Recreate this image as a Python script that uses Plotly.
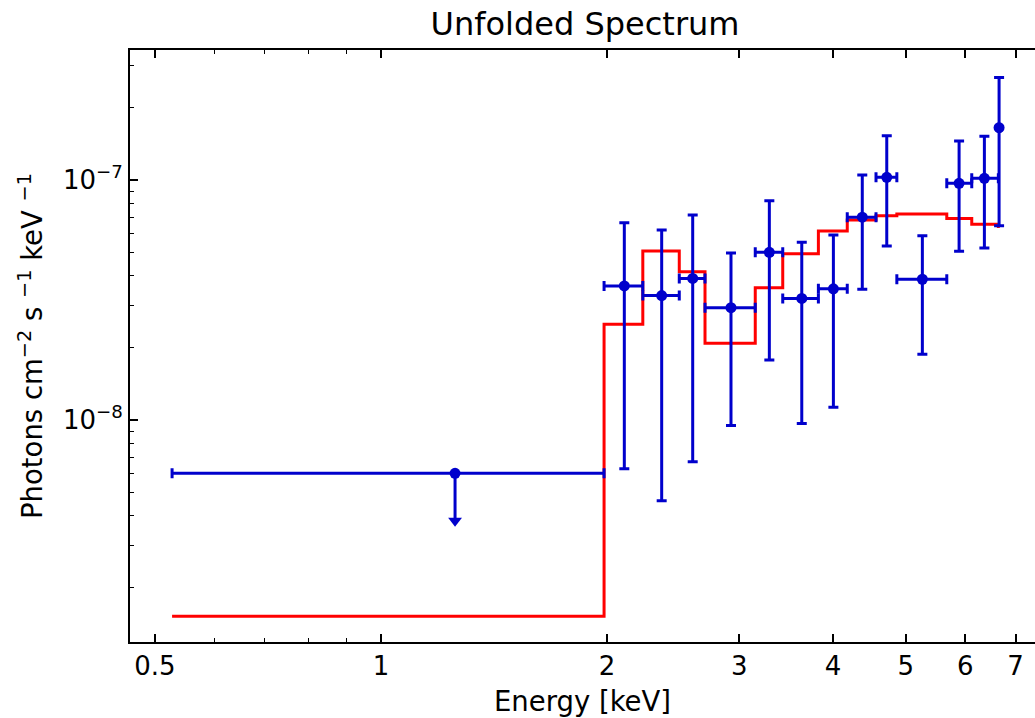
import numpy as np
import plotly.graph_objects as go

# ---- data ----
# bin edges in keV (shared by data and model)
edges = [0.527, 1.982, 2.232, 2.496, 2.701, 3.151, 3.428, 3.824, 4.178,
         4.563, 4.864, 5.669, 6.12, 6.64, 6.67]
# model (folded-back) values per bin
model_vals = [1.525e-9, 2.51e-8, 5.06e-8, 4.15e-8, 2.09e-8, 3.56e-8, 4.93e-8,
              6.13e-8, 6.81e-8, 7.10e-8, 7.22e-8, 6.92e-8, 6.54e-8, 6.4e-8]

# detected points (bins 2..14)
pt_x = [2.109, 2.365, 2.601, 2.925, 3.290, 3.634, 4.004, 4.375, 4.716, 5.26,
        5.887, 6.362, 6.655]
pt_y = [3.62e-8, 3.30e-8, 3.89e-8, 2.94e-8, 5.00e-8, 3.21e-8, 3.52e-8, 7.0e-8,
        1.026e-7, 3.86e-8, 9.69e-8, 1.016e-7, 1.652e-7]
pt_yhi = [6.64e-8, 6.19e-8, 7.15e-8, 4.97e-8, 8.20e-8, 5.5e-8, 5.90e-8, 1.05e-7,
          1.53e-7, 5.86e-8, 1.454e-7, 1.52e-7, 2.67e-7]
pt_ylo = [6.27e-9, 4.61e-9, 6.70e-9, 9.5e-9, 1.78e-8, 9.68e-9, 1.13e-8, 3.51e-8,
          5.31e-8, 1.88e-8, 5.05e-8, 5.21e-8, 6.45e-8]

# upper limit (first bin)
ul_x = [1.255]
ul_y = [6.0e-9]
arrow_frac = 0.635  # arrow-tip position relative to the limit value

x_major = [0.5, 1, 2, 3, 4, 5, 6, 7]
x_major_text = ["0.5", "1", "2", "3", "4", "5", "6", "7"]
x_minor = [0.6, 0.7, 0.8, 0.9]
y_major = [1e-8, 1e-7]
y_major_text = ["10<sup>\u22128</sup>", "10<sup>\u22127</sup>"]
y_minor = [m * 1e-9 for m in range(2, 10)] + [m * 1e-8 for m in range(2, 10)] + [2e-7, 3e-7]

BLUE = "#0000cc"
RED = "#ff0000"
FONT = "DejaVu Sans"

pt_lo_edges = edges[1:-1]
pt_hi_edges = edges[2:]

fig = go.Figure()

# model step line
fig.add_trace(go.Scatter(
    x=edges, y=model_vals + [model_vals[-1]], mode="lines",
    line=dict(color=RED, width=3, shape="hv"), showlegend=False, hoverinfo="skip"))

# data points
fig.add_trace(go.Scatter(
    x=pt_x, y=pt_y, mode="markers",
    marker=dict(color=BLUE, size=11),
    error_y=dict(type="data", symmetric=False,
                 array=[h - v for h, v in zip(pt_yhi, pt_y)],
                 arrayminus=[v - l for v, l in zip(pt_y, pt_ylo)],
                 color=BLUE, thickness=3, width=5),
    error_x=dict(type="data", symmetric=False,
                 array=[h - v for h, v in zip(pt_hi_edges, pt_x)],
                 arrayminus=[v - l for v, l in zip(pt_x, pt_lo_edges)],
                 color=BLUE, thickness=3, width=5),
    showlegend=False))

# upper limit point with horizontal bar and downward stem
fig.add_trace(go.Scatter(
    x=ul_x, y=ul_y, mode="markers",
    marker=dict(color=BLUE, size=11),
    error_x=dict(type="data", symmetric=False,
                 array=[edges[1] - ul_x[0]], arrayminus=[ul_x[0] - edges[0]],
                 color=BLUE, thickness=3, width=5),
    error_y=dict(type="data", symmetric=False, array=[0],
                 arrayminus=[ul_y[0] * (1 - arrow_frac)],
                 color=BLUE, thickness=3, width=0),
    showlegend=False))
fig.add_trace(go.Scatter(
    x=ul_x, y=[v * arrow_frac for v in ul_y], mode="markers",
    marker=dict(color=BLUE, size=12, symbol="triangle-down"),
    showlegend=False))

W, H = 1035, 718
L, R, T, B = 130, 0, 50, 76
x_range = [np.log10(0.4632), np.log10(7.43)]
y_range = [np.log10(1.19e-9), np.log10(3.48e-7)]

axis_common = dict(showline=True, linecolor="black", linewidth=2,
                   ticks="inside", tickcolor="black", tickwidth=1.8,
                   showgrid=False, zeroline=False,
                   tickfont=dict(family=FONT, size=26, color="black"))

fig.update_layout(
    width=W, height=H,
    margin=dict(l=L, r=R, t=T, b=B),
    paper_bgcolor="white", plot_bgcolor="white",
    font=dict(family=FONT, color="black"),
    title=dict(text="Unfolded Spectrum", x=(L + (W - R) + 5) / 2 / W, xanchor="center",
               y=1 - 24 / H, yanchor="middle",
               font=dict(family=FONT, size=32, color="black")),
    xaxis=dict(type="log", range=x_range, tickvals=x_major, ticktext=x_major_text,
               ticklen=8, mirror="ticks",
               minor=dict(tickvals=x_minor, ticks="inside", ticklen=4,
                          tickcolor="black", tickwidth=1.3),
               title=dict(text="Energy [keV]", standoff=12,
                          font=dict(family=FONT, size=27.5, color="black")),
               **axis_common),
    yaxis=dict(type="log", range=y_range, tickvals=y_major, ticktext=y_major_text,
               ticklen=8,
               minor=dict(tickvals=y_minor, ticks="inside", ticklen=4,
                          tickcolor="black", tickwidth=1.3),
               title=dict(text="Photons cm<sup>\u22122</sup> s <sup>\u22121</sup> keV <sup>\u22121</sup>",
                          standoff=12,
                          font=dict(family=FONT, size=27.5, color="black")),
               **axis_common),
    yaxis2=dict(type="log", range=y_range, overlaying="y", side="right",
                tickvals=y_major, ticks="inside", ticklen=8, tickcolor="black",
                tickwidth=1.8, showticklabels=False, showline=False,
                showgrid=False, zeroline=False),
)

fig.write_html("out.html")
